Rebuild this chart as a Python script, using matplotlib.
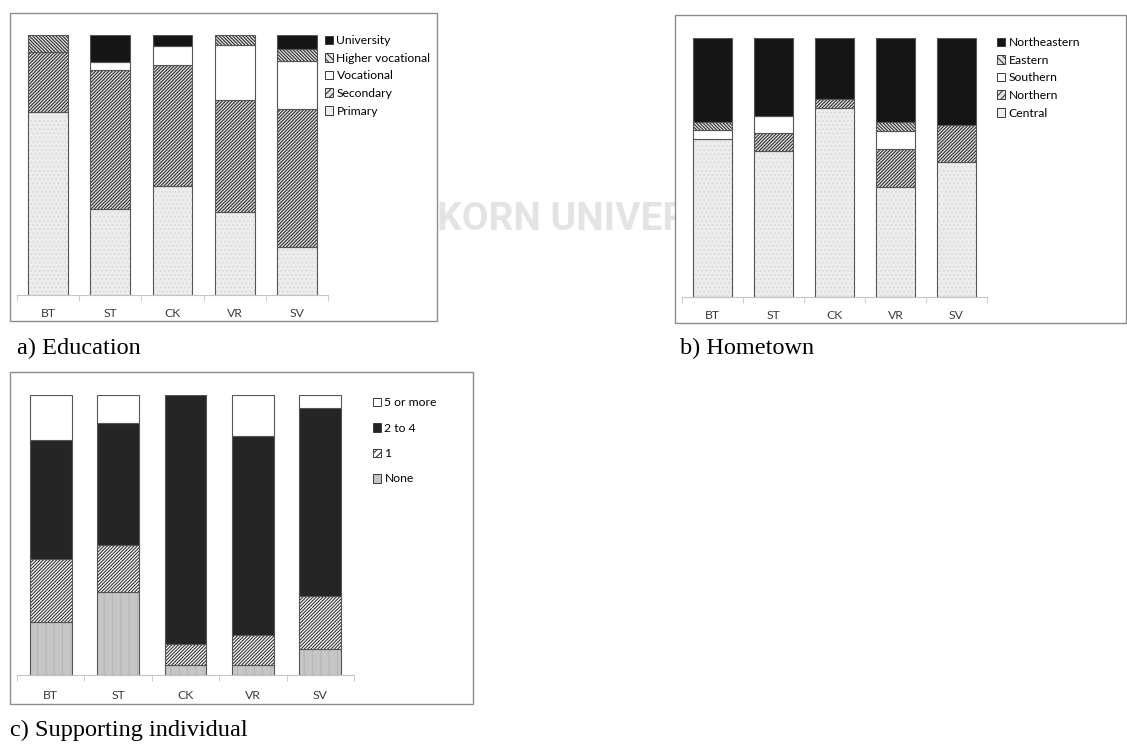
import numpy as np
import matplotlib
matplotlib.use("Agg")
import matplotlib.pyplot as plt
from matplotlib import font_manager
from matplotlib.patches import Rectangle, Patch

plt.rcParams["font.family"] = "Lato"
plt.rcParams["hatch.linewidth"] = 0.8

W, H = 1127, 744

sites = ["BT", "ST", "CK", "VR", "SV"]

# education level (% of respondents), stacked bottom -> top
edu_labels = ["Primary", "Secondary", "Vocational", "Higher vocational", "University"]
edu_primary = [70.5, 33.1, 41.8, 31.8, 18.6]
edu_secondary = [22.8, 53.3, 46.7, 43.2, 52.8]
edu_vocational = [0.0, 3.2, 7.3, 21.2, 18.6]
edu_higher_voc = [6.7, 0.0, 0.0, 3.8, 4.7]
edu_university = [0.0, 10.4, 4.2, 0.0, 5.3]

# hometown region (%)
home_labels = ["Central", "Northern", "Southern", "Eastern", "Northeastern"]
home_central = [60.9, 56.4, 72.9, 42.6, 52.1]
home_northern = [0.0, 6.8, 3.7, 14.5, 14.2]
home_southern = [3.4, 6.5, 0.0, 7.1, 0.0]
home_eastern = [3.1, 0.0, 0.0, 3.5, 0.0]
home_northeastern = [32.6, 30.3, 23.4, 32.3, 33.7]

# number of supported individuals (%)
sup_labels = ["None", "1", "2 to 4", "5 or more"]
sup_none = [19.1, 29.6, 3.7, 3.4, 9.3]
sup_one = [22.5, 17.0, 7.5, 10.9, 18.8]
sup_two_four = [42.3, 43.5, 88.8, 70.9, 67.3]
sup_five_more = [16.1, 9.9, 0.0, 14.7, 4.6]

FWD = "/" * 10
BACK = "\\" * 10

# fill styles: face colour, hatch, hatch colour
dots = dict(face="#ededed", hatch="....", hc="#dadada")
fwd = dict(face="#e4e4e4", hatch=FWD, hc="#2e2e2e")
back = dict(face="#e4e4e4", hatch=BACK, hc="#2e2e2e")
blank = dict(face="white", hatch=None, hc="white")
black = dict(face="#151515", hatch=None, hc="#151515")
edu_styles = [dots, fwd, blank, back, black]
home_styles = [dots, fwd, blank, back, black]
sup_styles = [dict(face="#c6c6c6", hatch="||", hc="#b6b6b6"),
              dict(face="white", hatch=FWD, hc="#333333"),
              dict(face="#252525", hatch=None, hc="#252525"),
              blank]

fig = plt.figure(figsize=(W / 100, H / 100), dpi=100)


def px_axes(l, t, r, b):
    ax = fig.add_axes([l / W, 1 - b / H, (r - l) / W, (b - t) / H])
    ax.set_zorder(2)
    ax.patch.set_alpha(0)
    return ax


def px_frame(l, t, r, b):
    fig.add_artist(Rectangle((l / W, 1 - b / H), (r - l) / W, (b - t) / H,
                             transform=fig.transFigure, facecolor="white",
                             edgecolor="#8c8c8c", linewidth=1.0, zorder=1))


def stacked(ax, series, styles, width):
    x = np.arange(len(sites))
    bottom = np.zeros(len(sites))
    for vals, st in zip(series, styles):
        vals = np.asarray(vals, dtype=float)
        keep = vals > 0
        ax.bar(x[keep], vals[keep], width, bottom=bottom[keep], color=st["face"],
               hatch=st["hatch"], edgecolor=st["hc"], linewidth=0)
        ax.bar(x[keep], vals[keep], width, bottom=bottom[keep], fill=False,
               edgecolor="#555555", linewidth=0.8)
        bottom += vals


def style_axes(ax, pad):
    ax.set_xlim(-0.5, 4.5)
    ax.set_ylim(0, 100)
    for s in ["top", "right", "left"]:
        ax.spines[s].set_visible(False)
    ax.spines["bottom"].set_color("#c4c4c4")
    ax.set_yticks([])
    ax.set_xticks(range(len(sites)))
    ax.set_xticklabels(sites)
    ax.set_xticks(np.arange(-0.5, 5, 1), minor=True)
    ax.tick_params(axis="x", which="major", length=0, pad=pad, labelsize=8.8, labelcolor="#3c3c3c")
    ax.tick_params(axis="x", which="minor", length=4, color="#c4c4c4")


def legend(labels, styles, x, y, spacing):
    handles = []
    for st in styles:
        h = st["hatch"] if st["hatch"] in (FWD, BACK) else None
        if h:
            h = h[:5]
        handles.append(Patch(facecolor=st["face"], edgecolor="#3a3a3a", hatch=h, linewidth=0.7))
    fig.legend(handles[::-1], labels[::-1], loc="upper left", bbox_to_anchor=(x / W, 1 - y / H),
               frameon=False, borderpad=0, borderaxespad=0, handlelength=0.7, handleheight=0.7,
               handletextpad=0.25, labelspacing=spacing, fontsize=8.7)


# faint background watermark, narrow face when available
names = {f.name for f in font_manager.fontManager.ttflist}
wm_family = "Liberation Sans Narrow" if "Liberation Sans Narrow" in names else "Roboto"
wm = dict(family=wm_family, weight="bold", fontsize=28, color="#e4e4e4", va="center", zorder=0)
fig.text(437 / W, 1 - 219 / H, "CHULALONG", ha="right", **wm)
fig.text(437 / W, 1 - 219 / H, "KORN UNIVERSITY", ha="left", **wm)

# a) Education
px_frame(10, 13, 437, 321)
ax_a = px_axes(17, 35, 328, 295)
stacked(ax_a, [edu_primary, edu_secondary, edu_vocational, edu_higher_voc, edu_university], edu_styles, 0.64)
style_axes(ax_a, 9.5)
legend(edu_labels, edu_styles, 325, 35, 0.55)
fig.text(17 / W, 1 - 348 / H, "a) Education", family="Liberation Serif", fontsize=17.5, va="center")

# b) Hometown
px_frame(675, 15, 1126, 323)
ax_b = px_axes(682, 38, 987, 297)
stacked(ax_b, [home_central, home_northern, home_southern, home_eastern, home_northeastern], home_styles, 0.64)
style_axes(ax_b, 9.5)
legend(home_labels, home_styles, 997, 37, 0.55)
fig.text(680 / W, 1 - 348 / H, "b) Hometown", family="Liberation Serif", fontsize=17.5, va="center")

# c) Supporting individual
px_frame(10, 372, 473, 704)
ax_c = px_axes(17, 395, 354, 675)
stacked(ax_c, [sup_none, sup_one, sup_two_four, sup_five_more], sup_styles, 0.62)
style_axes(ax_c, 11)
legend(sup_labels, sup_styles, 373, 397, 1.2)
fig.text(10 / W, 1 - 730 / H, "c) Supporting individual", family="Liberation Serif", fontsize=17.5, va="center")

fig.savefig("out.png", dpi=100)
